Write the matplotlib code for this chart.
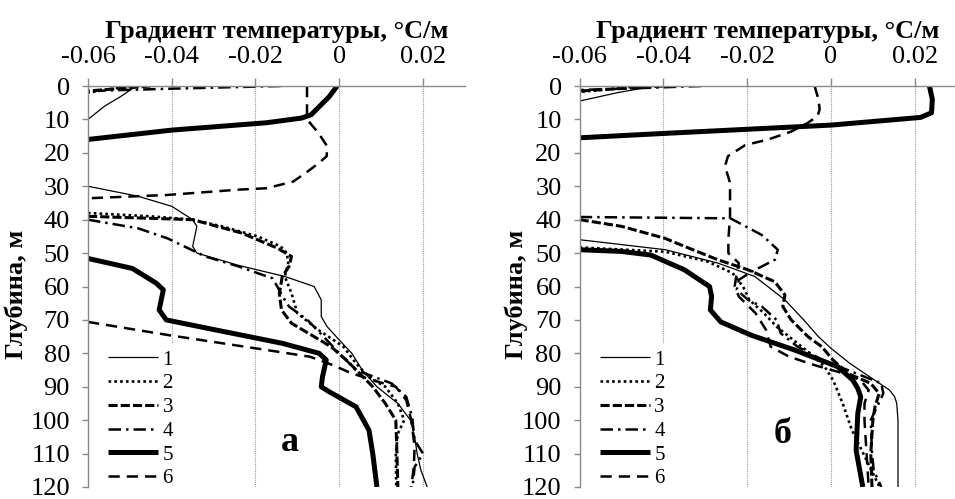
import numpy as np
import matplotlib
matplotlib.use('Agg')
import matplotlib.pyplot as plt

plt.rcParams['font.family'] = ['Liberation Serif', 'DejaVu Serif']

nan = np.nan

x_ticks = [-0.06, -0.04, -0.02, 0, 0.02]
x_tick_labels = ['-0.06', '-0.04', '-0.02', '0', '0.02']
y_ticks = list(range(0, 121, 10))
series_names = ['1', '2', '3', '4', '5', '6']

# panel a: depth (m) / gradient (degC/m); nan = off scale (< -0.06)
a_depth1 = [0, 3, 6, 10, nan, 30, 33, 36, 40, 42, 48, 50, 53.6, 57, 60, 64, 69, 72, 76, 80, 85, 90, 95, 100, 105, 110, 115, 120]
a_grad1 = [-0.0485, -0.052, -0.056, -0.060, nan, -0.060, -0.048, -0.040, -0.035, -0.034, -0.035, -0.034, -0.0243, -0.013, -0.006,
           -0.0043, -0.0043, -0.0029, 0, 0.003, 0.0055, 0.009, 0.014, 0.017, 0.018, 0.0186, 0.0195, 0.021]
a_depth2 = [0, 2, nan, 38, 39, 40, 42, 45, 48, 50, 53, 57, 62, 68, 73, 78, 83, 87, 90, 95, 100, 104, 110, 120]
a_grad2 = [-0.05, -0.06, nan, -0.06, -0.045, -0.035, -0.028, -0.0195, -0.014, -0.0125, -0.0122, -0.013, -0.0114, -0.010,
           -0.005, 0.001, 0.004, 0.007, 0.011, 0.014, 0.0155, 0.014, 0.0135, 0.0136]
a_depth3 = [0, 1.5, nan, 39, 40, 44, 48.5, 51, 54, 57, 62, 67, 71, 75, 78, 82, 90, 95, 100, 107, 120]
a_grad3 = [-0.045, -0.06, nan, -0.06, -0.035, -0.0233, -0.0148, -0.0114, -0.012, -0.0136, -0.0143, -0.0138, -0.0114,
           -0.006, -0.002, 0.0017, 0.008, 0.011, 0.0135, 0.0137, 0.014]
a_depth4 = [0, 0.8, 1.5, nan, 40, 42.6, 45.6, 48, 51, 54, 56, 57.5, 60, 63, 66, 70, 76, 80, 85, 89, 93, 99, 106, 110, 114, 120]
a_grad4 = [-0.014, -0.04, -0.06, nan, -0.06, -0.048, -0.041, -0.037, -0.032, -0.024, -0.0195, -0.016, -0.0148, -0.0135,
           -0.012, -0.0076, -0.003, 0, 0.004, 0.0125, 0.016, 0.0174, 0.018, 0.020, 0.018, 0.0175]
a_depth5 = [0, 3.2, 6.2, 8.6, 9.6, 11, 13.2, 16, nan, 51.6, 54.6, 59, 61, 64, 67, 70, 73, 77, 80, 82, 87, 90, 91.5, 96, 103, 110, 120]
a_grad5 = [-0.0005, -0.0024, -0.0048, -0.0067, -0.009, -0.0174, -0.040, -0.060, nan, -0.060, -0.0494, -0.0437, -0.042,
           -0.0425, -0.043, -0.0413, -0.0295, -0.0136, -0.0048, -0.0031, -0.004, -0.0043, -0.0024, 0.004, 0.0071, 0.008, 0.009]
a_depth6 = [0, 10, 14, 18, 21, 23, 26, 28.6, 30.6, 31, 32.6, 33.6, nan, 70.6, 74.5, 78.5, 81, 83.5, 86, 88.6, 90, 94, 100, 108, 114, 120]
a_grad6 = [-0.0077, -0.0077, -0.005, -0.0029, -0.003, -0.0048, -0.008, -0.011, -0.0174, -0.0238, -0.041, -0.060, nan,
           -0.060, -0.041, -0.020, -0.007, -0.0016, 0.003, 0.0095, 0.0135, 0.016, 0.0172, 0.018, 0.0178, 0.0172]

# panel б
b_depth1 = [0, 2, 4.5, nan, 46, 49, 53, 57, 64, 70, 75, 78.5, 83, 87, 91, 93, 95, 100, 120]
b_grad1 = [-0.042, -0.051, -0.060, nan, -0.060, -0.0395, -0.027, -0.0182, -0.011, -0.0065, -0.003, 0, 0.0045, 0.0092,
           0.014, 0.0152, 0.0157, 0.016, 0.016]
b_depth2 = [0, 1.8, nan, 48.3, 49.6, 52.6, 56, 60, 64, 68, 72, 76, 80, 84, 88, 95, 103, 112, 120]
b_grad2 = [-0.045, -0.06, nan, -0.06, -0.0395, -0.0293, -0.0235, -0.021, -0.0195, -0.016, -0.013, -0.009, -0.005,
           -0.0015, 0.0005, 0.0028, 0.005, 0.0085, 0.0116]
b_depth3 = [0, 1.5, nan, 40, 42, 45.6, 49, 52, 55, 58.6, 62.5, 66, 70, 75, 78, 82, 86, 89, 92, 96, 100, 110, 120]
b_grad3 = [-0.04, -0.06, nan, -0.06, -0.05, -0.0396, -0.033, -0.027, -0.0198, -0.0134, -0.011, -0.0115, -0.0095,
           -0.0055, -0.0022, 0.0005, 0.004, 0.0095, 0.0115, 0.0105, 0.010, 0.0095, 0.0098]
b_depth4 = [0, 0.6, 1.2, nan, 39.2, 39.6, 41.6, 44.6, 49, 52, 55.6, 58, 61, 64, 66, 70, 74, 78, 82, 86, 89, 92, 96, 100, 110, 115, 120]
b_grad4 = [-0.031, -0.045, -0.06, nan, -0.06, -0.024, -0.021, -0.0165, -0.0127, -0.0134, -0.019, -0.022, -0.0225,
           -0.0198, -0.0165, -0.013, -0.012, -0.008, -0.002, 0.006, 0.012, 0.0125, 0.011, 0.0095, 0.0098, 0.0102, 0.012]
b_depth5 = [0, 4, 8, 9.4, 11.7, 14.2, 15.5, nan, 49, 49.5, 50.6, 55, 60, 63, 67, 70.6, 74.6, 79, 84, 88, 90.5, 93, 98, 109, 120]
b_grad5 = [0.0235, 0.0242, 0.024, 0.0214, 0, -0.040, -0.060, nan, -0.060, -0.050, -0.043, -0.035, -0.029, -0.0285,
           -0.0288, -0.0263, -0.019, -0.0087, 0.0016, 0.0052, 0.0064, 0.0071, 0.0064, 0.006, 0.0076]
b_depth6 = [0, 4, 7, 9, 11, 13.7, 16, 17.7, 21, 24, 29, 39, 46, 50, 53, 56, 60, 63, 68, 73, 78, 81, 83.5, 86, 88, 91, 95, 100, 110, 120]
b_grad6 = [-0.0039, -0.003, -0.0027, -0.0032, -0.0055, -0.0096, -0.015, -0.0205, -0.0246, -0.0253, -0.0241, -0.0241,
           -0.0245, -0.0245, -0.022, -0.0225, -0.023, -0.022, -0.018, -0.0155, -0.0144, -0.010, -0.004, 0.003, 0.007,
           0.009, 0.008, 0.008, 0.0085, 0.009]

styles = [
    dict(color='black', lw=0.9, ls='-'),
    dict(color='black', lw=1.9, ls=(0, (1, 1.2))),
    dict(color='black', lw=2.2, ls=(0, (3, 1))),
    dict(color='black', lw=1.8, ls=(0, (5, 2, 1, 2))),
    dict(color='black', lw=3.6, ls='-'),
    dict(color='black', lw=1.8, ls=(0, (4.5, 2.8))),
]

panels = [
    ([a_depth1, a_depth2, a_depth3, a_depth4, a_depth5, a_depth6],
     [a_grad1, a_grad2, a_grad3, a_grad4, a_grad5, a_grad6], 'а', (-0.0118, 106.8), -0.159),
    ([b_depth1, b_depth2, b_depth3, b_depth4, b_depth5, b_depth6],
     [b_grad1, b_grad2, b_grad3, b_grad4, b_grad5, b_grad6], 'б', (-0.0115, 104.4), -0.138),
]

fig = plt.figure(figsize=(9.55, 4.99), dpi=100)
axes = [fig.add_axes([0.0921, 0.02405, 0.3947, 0.8036]),
        fig.add_axes([0.6070, 0.02405, 0.3947, 0.8036])]

grey = '#8a8a8a'
for ax, (depths, grads, letter, pos, ylab_x) in zip(axes, panels):
    for d, g, name, st in zip(depths, grads, series_names, styles):
        ax.plot(g, d, label=name, solid_capstyle='butt', **st)

    ax.set_xlim(-0.06, 0.03)
    ax.set_ylim(120, 0)
    ax.xaxis.tick_top()
    ax.xaxis.set_label_position('top')
    ax.set_xticks(x_ticks)
    ax.set_xticklabels(x_tick_labels)
    ax.set_yticks(y_ticks)
    ax.tick_params(axis='x', direction='out', length=6, width=1, color=grey, labelsize=19, pad=7)
    ax.tick_params(axis='y', direction='out', length=4, width=1, color=grey, labelsize=19, pad=9)
    for side in ['right', 'bottom']:
        ax.spines[side].set_visible(False)
    for side in ['left', 'top']:
        ax.spines[side].set_color(grey)
        ax.spines[side].set_linewidth(1)
    ax.grid(axis='x', color='#9a9a9a', linestyle=(0, (1, 1)), linewidth=0.8)
    ax.grid(axis='y', visible=False)
    ax.set_axisbelow(True)

    ax.set_xlabel('Градиент температуры, °C/м', fontsize=19, fontweight='bold', labelpad=6)
    ax.set_ylabel('Глубина, м', fontsize=19, fontweight='bold')
    ax.yaxis.set_label_coords(ylab_x, 0.481)

    ax.text(pos[0], pos[1], letter, fontsize=26, fontweight='bold', ha='center', va='center')

    leg = ax.legend(loc='lower left', bbox_to_anchor=(0.01, -0.045), fontsize=15, frameon=True,
                    facecolor='white', edgecolor='none', framealpha=1, handlelength=2.4,
                    handletextpad=0.2, labelspacing=0.2, borderpad=0.3)

fig.savefig('out.png', dpi=100)
